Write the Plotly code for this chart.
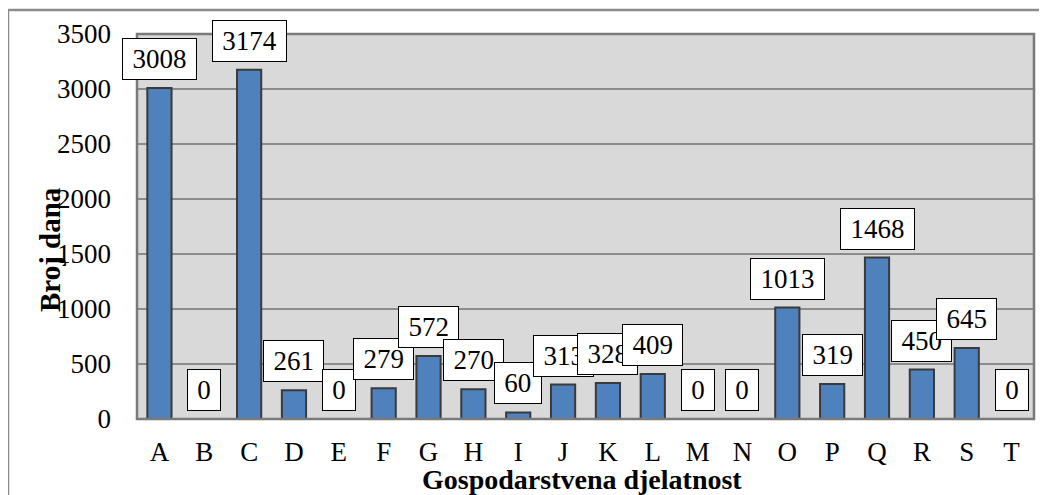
import plotly.graph_objects as go

categories = ["A", "B", "C", "D", "E", "F", "G", "H", "I", "J",
              "K", "L", "M", "N", "O", "P", "Q", "R", "S", "T"]
broj_dana = [3008, 0, 3174, 261, 0, 279, 572, 270, 60, 313,
             328, 409, 0, 0, 1013, 319, 1468, 450, 645, 0]
y_ticks = [0, 500, 1000, 1500, 2000, 2500, 3000, 3500]

SERIF = "Liberation Serif"
# the page body adds an 8px margin, so the figure is drawn 8px smaller
# and its margins are reduced by the same amount
OFF = 8
W, H = 1047 - OFF, 495 - OFF
L, R, T, B = 137 - OFF, 13, 34 - OFF, 76
PW, PH = W - L - R, H - T - B


def px_x(x):  # screen x -> paper x
    return (x - OFF - L) / PW


def px_y(y):  # screen y -> paper y
    return (H - B - (y - OFF)) / PH


fig = go.Figure(
    go.Bar(
        x=categories,
        y=broj_dana,
        marker=dict(color="#4F81BD", line=dict(color="#3A3A3A", width=2)),
        width=0.54,
        hoverinfo="x+y",
    )
)

# boxed data labels above each bar
for cat, val in zip(categories, broj_dana):
    txt = str(val)
    fig.add_annotation(
        x=cat, y=val, text=txt,
        xref="x", yref="y",
        yanchor="bottom", yshift=8,
        showarrow=False,
        font=dict(family=SERIF, size=27, color="black"),
        bgcolor="white", bordercolor="black", borderwidth=1, borderpad=5,
        width=len(txt) * 13.8 + 8, height=30,
    )

# axis titles
fig.add_annotation(
    text="<b>Broj dana</b>", textangle=-90,
    xref="paper", yref="paper", x=px_x(50), y=px_y(250),
    xanchor="center", yanchor="middle", showarrow=False,
    font=dict(family=SERIF, size=29, color="black"),
)
fig.add_annotation(
    text="<b>Gospodarstvena djelatnost</b>",
    xref="paper", yref="paper", x=px_x(582), y=px_y(479),
    xanchor="center", yanchor="middle", showarrow=False,
    font=dict(family=SERIF, size=28, color="black"),
)

# outer chart border (left and top edges visible)
fig.add_shape(
    type="rect", xref="paper", yref="paper", layer="below",
    x0=px_x(8), x1=px_x(1070),
    y0=px_y(520), y1=px_y(10),
    line=dict(color="#8C8C8C", width=2.5), fillcolor="rgba(0,0,0,0)",
)
# plot area border
fig.add_shape(
    type="rect", xref="paper", yref="paper", layer="above",
    x0=0, x1=1, y0=0, y1=1,
    line=dict(color="#7A7A7A", width=2.5), fillcolor="rgba(0,0,0,0)",
)

fig.update_layout(
    width=W, height=H,
    margin=dict(l=L, r=R, t=T, b=B, autoexpand=False),
    paper_bgcolor="white",
    plot_bgcolor="#D9D9D9",
    showlegend=False,
    font=dict(family=SERIF, size=27, color="black"),
    xaxis=dict(
        type="category",
        range=[-0.5, len(categories) - 0.5],
        automargin=False,
        showgrid=False,
        showline=False,
        ticks="",
        tickfont=dict(family=SERIF, size=27, color="black"),
        ticklabelstandoff=14,
    ),
    yaxis=dict(
        range=[0, 3500],
        automargin=False,
        tickvals=y_ticks,
        showgrid=True,
        gridcolor="#8C8C8C",
        gridwidth=2,
        zeroline=False,
        showline=False,
        ticks="",
        tickfont=dict(family=SERIF, size=27, color="black"),
        ticklabelstandoff=25,
    ),
)

fig.write_html("out.html")
